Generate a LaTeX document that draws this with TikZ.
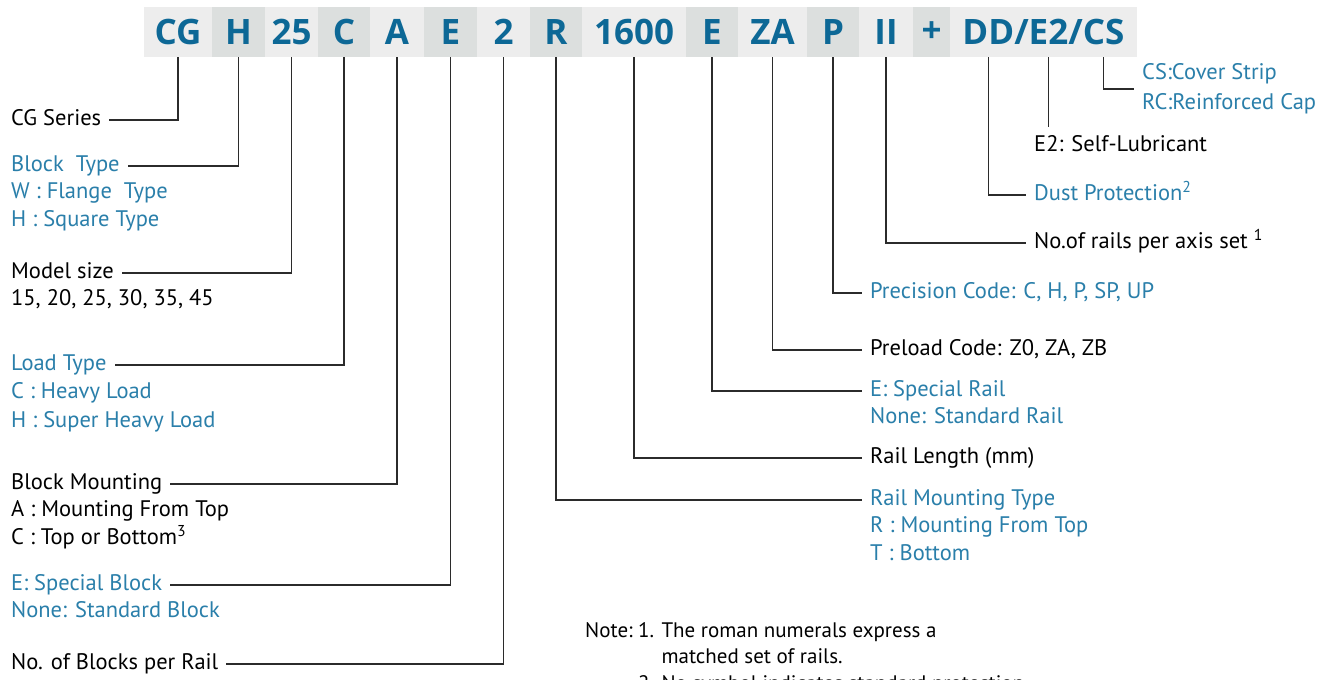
\documentclass[tikz,border=0pt]{standalone}
\usepackage{fontspec}
\setmainfont{PT Sans}
\newfontfamily\hdrfont{Open Sans}
\usepackage{xcolor}
\usetikzlibrary{positioning,calc}
\definecolor{hdrblue}{HTML}{0D6896}
\definecolor{lblblue}{HTML}{2A7FAA}
\definecolor{cellL}{HTML}{EDEDED}
\definecolor{cellD}{HTML}{DCDFDE}
\definecolor{leadgray}{HTML}{2B2B2B}
\tikzset{
  hdrtxt/.style={text=hdrblue, inner sep=0pt, outer sep=0pt,
    font=\hdrfont\bfseries\fontsize{35}{35}\selectfont},
  cell/.style   ={hdrtxt, minimum height=50pt},
  lite/.style   ={cell, fill=cellL},
  dark/.style   ={cell, fill=cellD},
  lbl/.style    ={anchor=west, inner sep=0pt, text height=16pt, text depth=5pt,
    font=\fontsize{22.5}{27}\selectfont},
  sub/.style    ={lbl, anchor=north west},
  blu/.style    ={text=lblblue},
  note/.style   ={lbl, font=\fontsize{21}{26}\selectfont},
  lead/.style   ={draw=leadgray, line width=1.2pt, shorten >=8pt}
}

\begin{document}
\begin{tikzpicture}[x=1pt, y=-1pt]
    \fill[white] (0,0) rectangle (1339,680);
    \useasboundingbox (0,0) rectangle (1339,680);

    % ---------- code bar ----------
    \node[lite, minimum width=68pt] (cCG) at (178,32) {CG};
    \node[dark, minimum width=53pt, right=0pt of cCG]   (cH)    {H};
    \node[lite, minimum width=53pt, right=0pt of cH]    (c25)   {25};
    \node[dark, minimum width=52pt, right=0pt of c25]   (cC)    {C};
    \node[lite, minimum width=54pt, right=0pt of cC]    (cA)    {A};
    \node[dark, minimum width=53pt, right=0pt of cA]    (cEb)   {E};
    \node[lite, minimum width=53pt, right=0pt of cEb]   (c2)    {2};
    \node[dark, minimum width=52pt, right=0pt of c2]    (cR)    {R};
    \node[lite, minimum width=104pt, right=0pt of cR]   (cLen)  {1600};
    \node[dark, minimum width=52pt, right=0pt of cLen]  (cEr)   {E};
    \node[lite, minimum width=69pt, right=0pt of cEr]   (cZA)   {ZA};
    \node[dark, minimum width=52pt, right=0pt of cZA]   (cP)    {P};
    \node[lite, minimum width=54pt, right=0pt of cP]    (cII)   {II};
    \node[dark, minimum width=37pt, right=0pt of cII]   (cPlus) {+};
    \node[lite, minimum width=187pt, right=0pt of cPlus] (cDD)  {};
    \node[hdrtxt, xshift=5pt] (kE2) at (cDD.center) {E2};
    \node[hdrtxt, anchor=base east] (kS1) at (kE2.base west) {/};
    \node[hdrtxt, anchor=base east] (kDD) at (kS1.base west) {DD};
    \node[hdrtxt, anchor=base west] (kS2) at (kE2.base east) {/};
    \node[hdrtxt, anchor=base west] (kCS) at (kS2.base east) {CS};

    % ---------- left column ----------
    \node[lbl] (lCG) at (11,120) {CG Series};
    \node[lbl, blu] (lBlk) at (11,166) {Block~~Type};
    \node[below=6pt of lBlk.south west, sub, blu] (lBlkW) {W : Flange~~Type};
    \node[below=6pt of lBlkW.south west, sub, blu] (lBlkH) {H : Square Type};
    \node[lbl] (lMod) at (11,273) {Model size};
    \node[below=6pt of lMod.south west, sub] (lModV) {15, 20, 25, 30, 35, 45};
    \node[lbl, blu] (lLoad) at (11,365) {Load Type};
    \node[below=7pt of lLoad.south west, sub, blu] (lLoadC) {C : Heavy Load};
    \node[below=7pt of lLoadC.south west, sub, blu] (lLoadH) {H : Super Heavy Load};
    \node[lbl] (lMnt) at (11,484) {Block Mounting};
    \node[below=6pt of lMnt.south west, sub] (lMntA) {A : Mounting From Top};
    \node[below=6pt of lMntA.south west, sub] (lMntC)
      {C : Top or Bottom\textsuperscript{3}};
    \node[lbl, blu] (lSpB) at (11,585) {E: Special Block};
    \node[below=6pt of lSpB.south west, sub, blu] (lSpBN) {None: Standard Block};
    \node[lbl] (lNum) at (11,664) {No. of Blocks per Rail};

    \draw[lead] (cCG.south) |- (lCG.east);
    \draw[lead] (cH.south)  |- (lBlk.east);
    \draw[lead] (c25.south) |- (lMod.east);
    \draw[lead] (cC.south)  |- (lLoad.east);
    \draw[lead] (cA.south)  |- (lMnt.east);
    \draw[lead] (cEb.south) |- (lSpB.east);
    \draw[lead] (c2.south)  |- (lNum.east);

    % ---------- right column ----------
    \node[lbl, blu, align=left, text height=, text depth=,
      font=\fontsize{22.5}{30}\selectfont] (lCS) at (1142,89)
      {CS:Cover Strip\\RC:Reinforced Cap};
    \node[lbl] (lE2) at (1034,146) {E2: Self-Lubricant};
    \node[lbl, blu] (lDust) at (1034,195) {Dust Protection\textsuperscript{2}};
    \node[lbl] (lRails) at (1034,243) {No.of rails per axis set \textsuperscript{1}};
    \node[lbl, blu] (lPrec) at (870,293) {Precision Code: C, H, P, SP, UP};
    \node[lbl] (lPre) at (870,350) {Preload Code: Z0, ZA, ZB};
    \node[lbl, blu] (lSpR) at (870,391) {E: Special Rail};
    \node[below=6pt of lSpR.south west, sub, blu] (lSpRN) {None: Standard Rail};
    \node[lbl] (lLen) at (870,458) {Rail Length (mm)};
    \node[lbl, blu] (lRMnt) at (870,500) {Rail Mounting Type};
    \node[below=6pt of lRMnt.south west, sub, blu] (lRMntR) {R : Mounting From Top};
    \node[below=6pt of lRMntR.south west, sub, blu] (lRMntT) {T : Bottom};

    \draw[lead] (kCS |- cDD.south) |- (lCS.west);
    \draw[lead] (kE2 |- cDD.south) -- (kE2 |- lE2.north);
    \draw[lead] (kDD |- cDD.south) |- (lDust.west);
    \draw[lead] (cII.south)  |- (lRails.west);
    \draw[lead] (cP.south)   |- (lPrec.west);
    \draw[lead] (cZA.south)  |- (lPre.west);
    \draw[lead] (cEr.south)  |- (lSpR.west);
    \draw[lead] (cLen.south) |- (lLen.west);
    \draw[lead] (cR.south)   |- (lRMnt.west);

    % ---------- notes ----------
    \node[note] (nNote) at (585,632) {Note:};
    \node[note, right=5pt of nNote] (n1) {1. The roman numerals express a};
    \node[below=5pt of n1.south west, note, anchor=north west] (n1b)
      {\phantom{1. }matched set of rails.};
    \node[below=5pt of n1b.south west, note, anchor=north west] (n2)
      {2. No symbol indicates standard protection};

  \end{tikzpicture}
\end{document}
